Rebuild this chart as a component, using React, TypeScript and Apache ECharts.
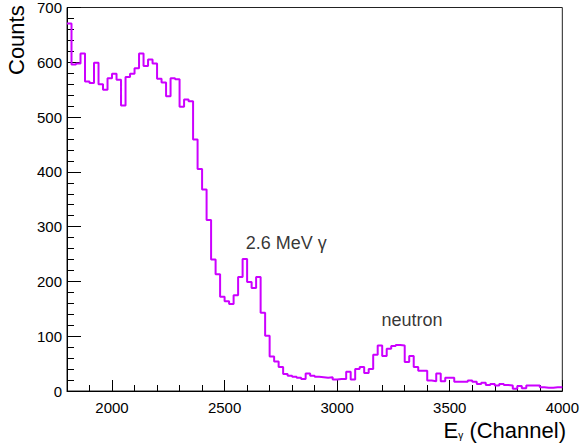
import React, { useEffect, useRef } from 'react';
import * as echarts from 'echarts';

// Histogram binning (channel axis)
const BIN_LOW = 1800;
const BIN_WIDTH = 20;

// Counts per 20-channel bin, from 1800 to 4000
const counts = [
  671, 596, 598, 616, 565, 562, 599, 560, 550, 571,
  579, 568, 521, 573, 579, 589, 616, 593, 605, 598,
  570, 563, 538, 571, 569, 519, 532, 529, 459, 405,
  368, 312, 240, 213, 172, 164, 159, 175, 208, 241,
  199, 188, 208, 143, 101, 63, 54, 44, 31, 28,
  26, 24, 22, 32, 28, 26, 25, 24, 25, 21,
  22, 22, 35, 21, 40, 44, 33, 40, 66, 83,
  64, 77, 82, 84, 83, 53, 64, 44, 37, 37,
  19, 18, 32, 18, 24, 24, 17, 17, 17, 19,
  17, 13, 15, 11, 13, 10, 13, 11, 10, 4,
  9, 5, 10, 10, 10, 7, 6, 6, 7, 7,
];

const xRange = [1800, 4000];
const yRange = [0, 700];

const annotationTexts = ['2.6 MeV γ', 'neutron'];
const annotationX = [2774, 3332];
const annotationY = [271, 129];

const FONT = '"Liberation Sans", Arial, Helvetica, sans-serif';

export default function App() {
  const ref = useRef<HTMLDivElement>(null);

  useEffect(() => {
    document.body.style.margin = '0';
    if (!ref.current) return;
    const chart = echarts.init(ref.current, undefined, { renderer: 'svg' });

    const histData: [number, number][] = counts.map((c, i) => [BIN_LOW + i * BIN_WIDTH, c]);
    histData.push([BIN_LOW + counts.length * BIN_WIDTH, counts[counts.length - 1]]);

    const option: any = {
      animation: false,
      backgroundColor: '#ffffff',
      grid: {
        left: 67,
        right: 16,
        top: 6,
        bottom: 53,
        show: true,
        borderColor: '#222',
        borderWidth: 1,
        backgroundColor: 'transparent',
      },
      xAxis: {
        type: 'value',
        min: xRange[0],
        max: xRange[1],
        splitNumber: 5,
        axisLine: { show: true, lineStyle: { color: '#000', width: 1 } },
        axisTick: { show: true, inside: true, length: 11, lineStyle: { color: '#000' } },
        minorTick: { show: true, splitNumber: 5, length: 6, lineStyle: { color: '#000' } },
        splitLine: { show: false },
        axisLabel: {
          color: '#000',
          fontFamily: FONT,
          fontSize: 15,
          margin: 9,
          formatter: (v: number) => (v % 500 === 0 ? String(v) : ''),
        },
      },
      yAxis: {
        type: 'value',
        min: yRange[0],
        max: yRange[1],
        interval: 100,
        axisLine: { show: true, lineStyle: { color: '#000', width: 1 } },
        axisTick: { show: true, inside: true, length: 14, lineStyle: { color: '#000' } },
        minorTick: { show: true, splitNumber: 5, length: 7, lineStyle: { color: '#000' } },
        splitLine: { show: false },
        axisLabel: {
          color: '#000',
          fontFamily: FONT,
          fontSize: 15,
          margin: 5,
        },
      },
      series: [
        {
          type: 'line',
          step: 'end',
          data: histData,
          showSymbol: false,
          symbol: 'none',
          lineStyle: { color: '#cc00ff', width: 2 },
          z: 3,
        },
        {
          type: 'scatter',
          symbolSize: 0,
          data: annotationTexts.map((t, i) => ({ name: t, value: [annotationX[i], annotationY[i]] })),
          label: {
            show: true,
            position: 'inside',
            formatter: (p: any) => p.name,
            color: '#000',
            fontFamily: FONT,
            fontSize: 18,
          },
          silent: true,
        },
      ],
      graphic: [
        {
          type: 'text',
          x: 16,
          y: 75,
          rotation: Math.PI / 2,
          style: {
            text: 'Counts',
            fill: '#000',
            font: `22px ${FONT}`,
            textAlign: 'left',
            textVerticalAlign: 'middle',
          },
        },
        {
          type: 'text',
          right: 16,
          top: 419,
          style: {
            text: '{e|E}{s|γ}{e| (Channel)}',
            fill: '#000',
            rich: {
              e: { fontFamily: FONT, fontSize: 22, fill: '#000', verticalAlign: 'bottom' },
              s: { fontFamily: FONT, fontSize: 10, fill: '#000', verticalAlign: 'bottom', padding: [0, 0, 1, 0] },
            },
          },
        },
      ],
    };

    chart.setOption(option);
    return () => chart.dispose();
  }, []);

  return <div ref={ref} style={{ width: 582, height: 444 }} />;
}
